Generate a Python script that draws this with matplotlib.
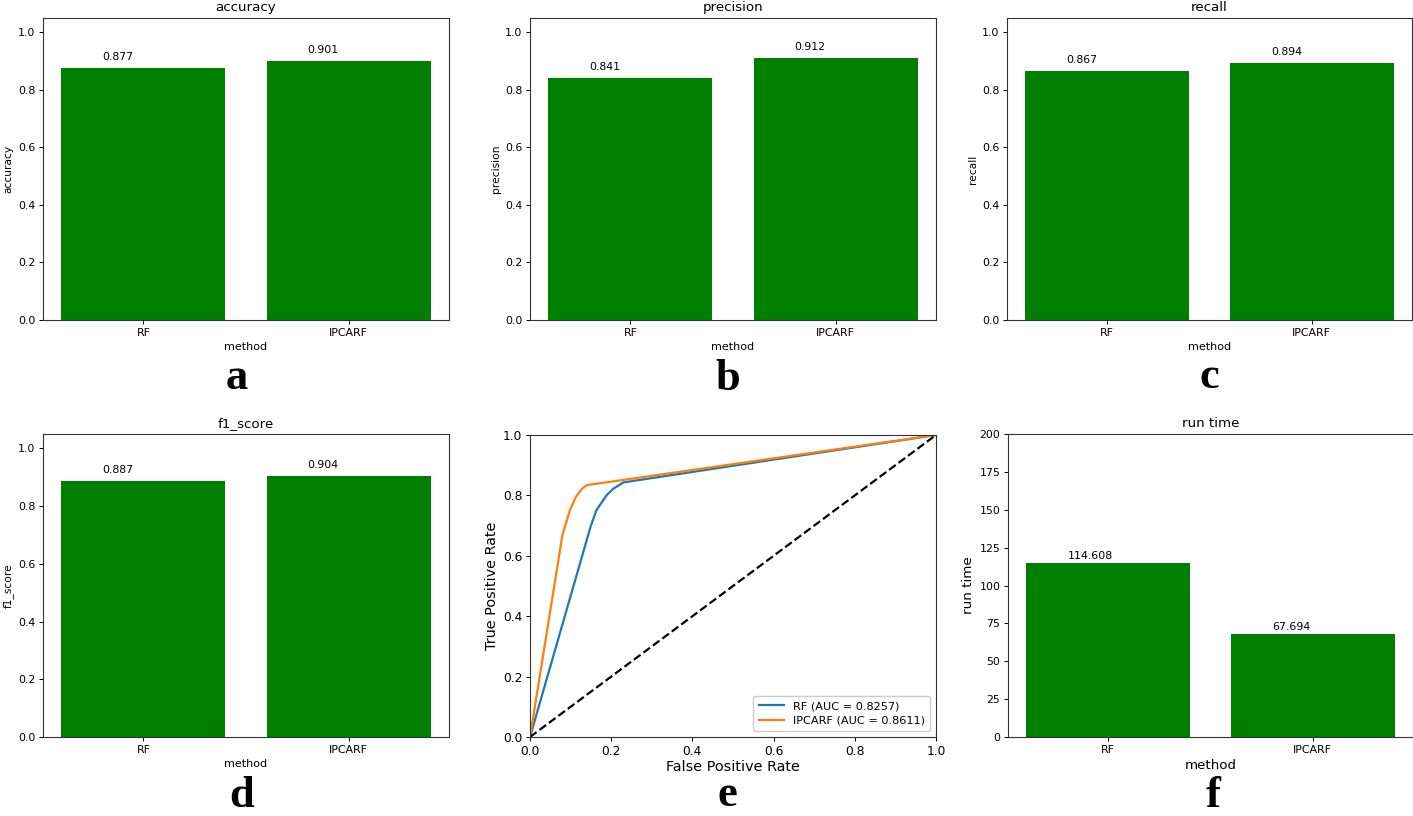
import matplotlib
matplotlib.use("Agg")
import matplotlib.pyplot as plt

methods = ["RF", "IPCARF"]
accuracy = [0.877, 0.901]
precision = [0.841, 0.912]
recall = [0.867, 0.894]
f1_score = [0.887, 0.904]
run_time = [114.608, 67.694]

fpr_rf = [0.0, 0.15, 0.164, 0.189, 0.205, 0.23, 1.0]
tpr_rf = [0.0, 0.70, 0.752, 0.801, 0.822, 0.843, 1.0]
fpr_ipcarf = [0.0, 0.08, 0.0985, 0.113, 0.128, 0.14, 1.0]
tpr_ipcarf = [0.0, 0.67, 0.752, 0.795, 0.822, 0.834, 1.0]
auc_rf = 0.8257
auc_ipcarf = 0.8611

panel_letters = ["a", "b", "c", "d", "e", "f"]

W, H = 1413, 816
fig = plt.figure(figsize=(W / 100, H / 100), dpi=100)


def ax_at(x0, y_top, w, h):
    return fig.add_axes([x0 / W, (H - y_top - h) / H, w / W, h / H])


def style_ticks(ax, size):
    ax.tick_params(labelsize=size, length=3, width=0.7, pad=2.5)
    for s in ax.spines.values():
        s.set_linewidth(0.8)
        s.set_color("#333333")


def bar_panel(ax, values, name, lab_size=7.8, big=False):
    x = list(range(len(methods)))
    ax.bar(x, values, width=0.8, color="green")
    ax.set_xticks(x)
    ax.set_xticklabels(methods)
    ax.set_title(name, fontsize=9.6, pad=5)
    if big:
        ax.set_ylim(0, 200)
        ax.set_yticks([0, 25, 50, 75, 100, 125, 150, 175, 200])
        off = 3.0
        ax.set_ylabel(name, fontsize=9.7, labelpad=3)
        ax.set_xlabel("method", fontsize=9.6, labelpad=3)
    else:
        ax.set_ylim(0, 1.05)
        ax.set_yticks([0.0, 0.2, 0.4, 0.6, 0.8, 1.0])
        off = 0.028
        ax.set_ylabel(name, fontsize=7.7, labelpad=3)
        ax.set_xlabel("method", fontsize=8, labelpad=3)
    for i, v in enumerate(values):
        ax.text(i - 0.2, v + off, f"{v:.3f}", ha="left", va="baseline", fontsize=lab_size)
    style_ticks(ax, 7.9)


# top row
ax_a = ax_at(43, 18, 406, 302)
bar_panel(ax_a, accuracy, "accuracy")
ax_b = ax_at(530, 18, 406, 302)
bar_panel(ax_b, precision, "precision")
ax_c = ax_at(1007, 18, 405, 302)
bar_panel(ax_c, recall, "recall")

# bottom row
ax_d = ax_at(43, 434, 406, 303)
bar_panel(ax_d, f1_score, "f1_score")

ax_e = ax_at(530, 435, 406, 302)
ax_e.plot(fpr_rf, tpr_rf, color="#1f77b4", lw=1.6, label=f"RF (AUC = {auc_rf:.4f})")
ax_e.plot(fpr_ipcarf, tpr_ipcarf, color="#ff7f0e", lw=1.6, label=f"IPCARF (AUC = {auc_ipcarf:.4f})")
ax_e.plot([0, 1], [0, 1], color="black", lw=1.6, ls="--")
ax_e.set_xlim(0, 1)
ax_e.set_ylim(0, 1)
ax_e.set_xlabel("False Positive Rate", fontsize=10.4, labelpad=2)
ax_e.set_ylabel("True Positive Rate", fontsize=10.4, labelpad=3)
ax_e.legend(loc="lower right", fontsize=8.1, handlelength=2.2, borderpad=0.5,
            labelspacing=0.4, framealpha=1.0)
style_ticks(ax_e, 8.8)

ax_f = ax_at(1008, 434, 405, 303)
bar_panel(ax_f, run_time, "run time", lab_size=7.9, big=True)

# panel letters
letter_pos = [(237, 389), (728, 390), (1209, 388), (242, 807), (727, 806), (1213, 807)]
for letter, (lx, ly) in zip(panel_letters, letter_pos):
    fig.text(lx / W, (H - ly) / H, letter, ha="center", va="baseline",
             fontsize=32, fontweight="bold", family="Liberation Serif")

fig.savefig("out.png", dpi=100)
